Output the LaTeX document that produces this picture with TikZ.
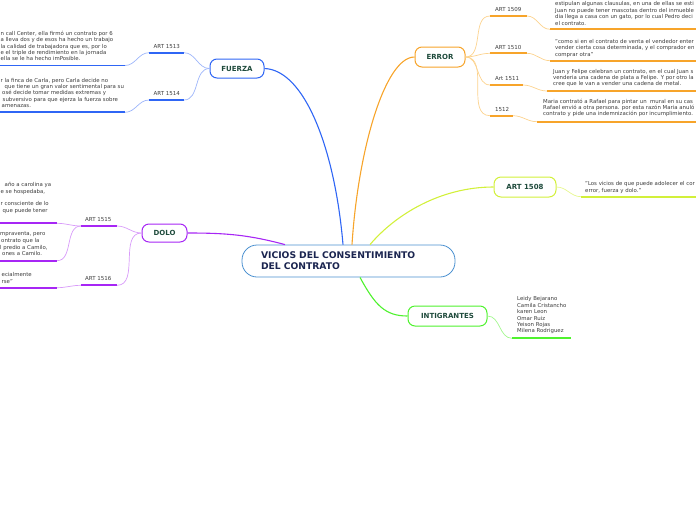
\documentclass[tikz,border=0pt]{standalone}
\usepackage{fontspec}
\setmainfont{DejaVu Sans}

\definecolor{mainblue}{HTML}{4A90D0}
\definecolor{navy}{HTML}{1B2550}
\definecolor{topictxt}{HTML}{1F4B3C}
\definecolor{bodytxt}{HTML}{3C3C3C}
\definecolor{fzblue}{HTML}{2F66F5}
\definecolor{fzlight}{HTML}{9DB5FA}
\definecolor{erorange}{HTML}{F7A42A}
\definecolor{erlight}{HTML}{FCD38E}
\definecolor{dlpurple}{HTML}{A726F5}
\definecolor{dllight}{HTML}{D89BF9}
\definecolor{artlime}{HTML}{D2F03A}
\definecolor{artlight}{HTML}{E6F78E}
\definecolor{intgreen}{HTML}{4FF22E}
\definecolor{intlight}{HTML}{A2F78E}

\tikzset{
  main/.style={draw=mainblue, line width=0.8pt, rounded corners=15pt, fill=white,
    minimum width=213pt, minimum height=32pt, text width=175pt, align=left,
    font=\fontsize{9.2}{11}\selectfont\bfseries, text=navy},
  topic/.style={line width=1pt, rounded corners=7pt, fill=white, minimum height=19pt,
    inner sep=0pt, font=\fontsize{7}{8}\selectfont\bfseries, text=topictxt},
  lbl/.style={anchor=base west, inner sep=0pt, font=\fontsize{5.5}{6.5}\selectfont, text=bodytxt},
  body/.style={anchor=base west, inner sep=0pt, align=left, font=\fontsize{5.4}{6.4}\selectfont, text=bodytxt},
  uline/.style={line width=1.8pt},
  thin/.style={line width=0.7pt},
  branch/.style={line width=1.1pt}
}

\begin{document}
\begin{tikzpicture}[x=1pt,y=-1pt]
    \useasboundingbox (0,0) rectangle (696,520);
    \clip (0,0) rectangle (696,520);

    \node[main] (vicios) at (348.5,261) {VICIOS DEL CONSENTIMIENTO\\DEL CONTRATO};
    \node[topic, draw=fzblue, minimum width=54pt] (fuerza) at (237,68.5) {FUERZA};
    \node[topic, draw=dlpurple, minimum width=45pt, minimum height=18pt] (dolo) at (164.5,233) {DOLO};
    \node[topic, draw=erorange, minimum width=50pt, minimum height=20pt] (error) at (440,57) {ERROR};
    \node[topic, draw=artlime, minimum width=62pt, minimum height=20pt] (art1508) at (525,187) {ART 1508};
    \node[topic, draw=intgreen, minimum width=79pt, minimum height=20pt] (intig) at (447.5,316) {INTIGRANTES};

    \coordinate (vb) at ([xshift=-5.5pt]vicios.north);
    \coordinate (vo) at ([xshift=3.5pt]vicios.north);
    \coordinate (vl) at ([xshift=21.5pt]vicios.north);
    \coordinate (vp) at ([xshift=-63.5pt]vicios.north);
    \coordinate (vg) at ([xshift=11.5pt]vicios.south);

    \draw[branch, fzblue] (fuerza.east) .. controls (305,70) and (335,150) .. (vb);
    \draw[branch, erorange] (error.west) .. controls (385,57) and (358,150) .. (vo);
    \draw[branch, artlime] (vl) .. controls (395,215) and (440,187) .. (art1508.west);
    \draw[branch, dlpurple] (dolo.east) to[out=0, in=165] (vp);
    \draw[branch, intgreen] (vg) .. controls (375,305) and (385,316) .. (intig.west);

    % fuerza
    \coordinate (f13a) at (149,52.7);
    \coordinate (f13b) at (184,52.7);
    \coordinate (f14a) at (149,100);
    \coordinate (f14b) at (184,100);
    \coordinate (t13a) at (0,65.5);
    \coordinate (t13b) at (125,65.5);
    \coordinate (t14a) at (0,112.3);
    \coordinate (t14b) at (125,112.3);

    \draw[thin, fzlight] (fuerza.west) to[out=180, in=0] (f13b);
    \draw[thin, fzlight] (fuerza.west) to[out=180, in=0] (f14b);
    \draw[thin, fzlight] (f13a) to[out=180, in=0] (t13b);
    \draw[thin, fzlight] (f14a) to[out=180, in=0] (t14b);
    \draw[uline, fzblue] (f13a) -- (f13b);
    \draw[uline, fzblue] (f14a) -- (f14b);
    \draw[uline, fzblue] (t13a) -- (t13b);
    \draw[uline, fzblue] (t14a) -- (t14b);

    \node[lbl] (a1513) at (153.5,48.2) {ART 1513};
    \node[lbl] (a1514) at (153.5,95.5) {ART 1514};
    \node[body, font=\fontsize{5.4}{6.3}\selectfont] (x1513) at (0.5,60.7) {n call Center, ella firmó un contrato por 6\\a lleva dos y de esos ha hecho un trabajo\\la calidad de trabajadora que es, por lo\\e el triple de rendimiento en la jornada\\ella se le ha hecho imPosible.};
    \node[body, font=\fontsize{5.4}{6.3}\selectfont] (x1514) at (0.5,107.5) {r la finca de Carla, pero Carla decide no\\\hspace*{4pt}que tiene un gran valor sentimental para su\\\hspace*{1.5pt}osé decide tomar medidas extremas y\\\hspace*{2pt}subversivo para que ejerza la fuerza sobre\\\hspace*{1pt}amenazas.};

    % dolo
    \coordinate (d15a) at (81,226);
    \coordinate (d15b) at (117,226);
    \coordinate (d16a) at (81,285.3);
    \coordinate (d16b) at (117,285.3);
    \coordinate (tda) at (0,223.3);
    \coordinate (tdb) at (57,223.3);
    \coordinate (tea) at (0,260.7);
    \coordinate (teb) at (57,260.7);
    \coordinate (tfa) at (0,287.7);
    \coordinate (tfb) at (57,287.7);

    \draw[thin, dllight] (dolo.west) to[out=180, in=0] (d15b);
    \draw[thin, dllight] (dolo.west) to[out=180, in=0] (d16b);
    \draw[thin, dllight] (d15a) to[out=180, in=0] (tdb);
    \draw[thin, dllight] (d15a) to[out=180, in=0] (teb);
    \draw[thin, dllight] (d16a) to[out=180, in=0] (tfb);
    \draw[uline, dlpurple] (d15a) -- (d15b);
    \draw[uline, dlpurple] (d16a) -- (d16b);
    \draw[uline, dlpurple] (tda) -- (tdb);
    \draw[uline, dlpurple] (tea) -- (teb);
    \draw[uline, dlpurple] (tfa) -- (tfb);

    \node[lbl] (a1515) at (85,221.5) {ART 1515};
    \node[lbl] (a1516) at (85,280.5) {ART 1516};
    \node[body] (xda) at (0.5,212.2) {\hspace*{4pt}año a carolina ya\\e se hospedaba,\\[6.4pt]r consciente de lo\\\hspace*{2pt}que puede tener};
    \node[body, font=\fontsize{5.4}{6.7}\selectfont] (xdb) at (0,255.8) {mpraventa, pero\\\hspace*{1pt}ontrato que la\\l predio a Camilo,\\\hspace*{2pt}ones a Camilo.};
    \node[body, font=\fontsize{5.4}{6.7}\selectfont] (xdc) at (1.5,283.2) {ecialmente\\rse"};

    % error
    \coordinate (e09a) at (490,16);
    \coordinate (e09b) at (527,16);
    \coordinate (e10a) at (490,53.3);
    \coordinate (e10b) at (527,53.3);
    \coordinate (e11a) at (490,85);
    \coordinate (e11b) at (523,85);
    \coordinate (e12a) at (490,115.7);
    \coordinate (e12b) at (513,115.7);
    \coordinate (t09a) at (550,29.3);
    \coordinate (t09b) at (700,29.3);
    \coordinate (t10a) at (550,60.7);
    \coordinate (t10b) at (700,60.7);
    \coordinate (t11a) at (547,91);
    \coordinate (t11b) at (700,91);
    \coordinate (t12a) at (537,121.7);
    \coordinate (t12b) at (700,121.7);

    \foreach \i in {09,10,11,12}{
      \draw[thin, erlight] (error.east) to[out=0, in=180] (e\i a);
      \draw[thin, erlight] (e\i b) to[out=0, in=180] (t\i a);
      \draw[uline, erorange] (e\i a) -- (e\i b);
      \draw[uline, erorange] (t\i a) -- (t\i b);
    }

    \node[lbl] (a1509) at (495,11.5) {ART 1509};
    \node[lbl] (a1510) at (495,49.2) {ART 1510};
    \node[lbl] (a1511) at (495,80.5) {Art 1511};
    \node[lbl] (a1512) at (495,111.5) {1512};
    \node[body, font=\fontsize{5.4}{6.6}\selectfont] (x1509) at (555,25.5) {estipulan algunas clausulas, en una de ellas se esti\\Juan no puede tener mascotas dentro del inmueble\\dia llega a casa con un gato, por lo cual Pedro deci\\el contrato.};
    \node[body, font=\fontsize{5.4}{6.6}\selectfont] (x1510) at (555,56.5) {"como si en el contrato de venta el vendedor enter\\vender cierta cosa determinada, y el comprador en\\comprar otra"};
    \node[body, font=\fontsize{5.4}{6}\selectfont] (x1511) at (553,85.8) {Juan y Felipe celebran un contrato, en el cual Juan s\\venderia una cadena de plata a Felipe. Y por otro la\\cree que le van a vender una cadena de metal.};
    \node[body, font=\fontsize{5.4}{6}\selectfont] (x1512) at (543,115.8) {Maria contrató a Rafael para pintar un\ \ mural en su cas\\Rafael envió a otra persona. por esta razón Maria anuló\\contrato y pide una indemnización por incumplimiento.};

    % art 1508
    \coordinate (t08a) at (581,196.7);
    \coordinate (t08b) at (700,196.7);
    \draw[thin, artlight] (art1508.east) to[out=0, in=180] (t08a);
    \draw[uline, artlime] (t08a) -- (t08b);
    \node[body, font=\fontsize{5.4}{6.7}\selectfont] (x1508) at (585,192.2) {"Los vicios de que puede adolecer el cor\\error, fuerza y dolo."};

    % intigrantes
    \coordinate (tia) at (512,338.3);
    \coordinate (tib) at (571,338.3);
    \draw[thin, intlight] (intig.east) to[out=0, in=180] (tia);
    \draw[uline, intgreen] (tia) -- (tib);
    \node[body, font=\fontsize{5.4}{6.4}\selectfont] (xint) at (517,332.8) {Leidy Bejarano\\Camila Cristancho\\karen Leon\\Omar Ruiz\\Yeison Rojas\\Milena Rodriguez};
\end{tikzpicture}
\end{document}
